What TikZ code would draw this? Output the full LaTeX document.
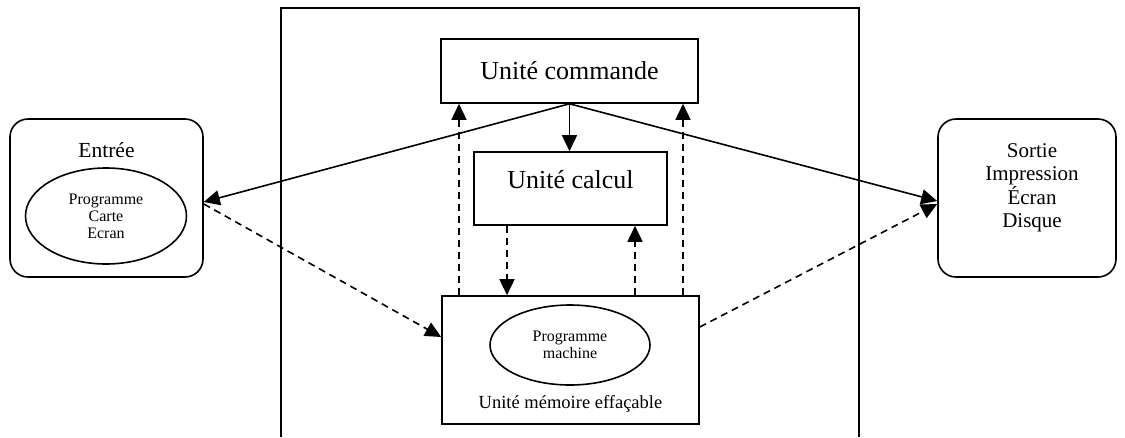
\documentclass[tikz,border=0pt]{standalone}
\usepackage{fontspec}
\setmainfont{Liberation Serif}
\usetikzlibrary{arrows.meta,shapes.geometric}
\begin{document}
\begin{tikzpicture}[x=1pt,y=-1pt,
  line width=1.6pt,
  box/.style={draw,rectangle,inner sep=0pt},
  rbox/.style={draw,rectangle,rounded corners=18pt,inner sep=0pt},
  oval/.style={draw,ellipse,inner sep=0pt},
  tip/.style={-{Triangle[length=16pt,width=15pt]}},
  dsh/.style={dash pattern=on 7pt off 5pt}
]
\useasboundingbox (0,0) rectangle (1125,437);
% outer frame (cropped at bottom)
\draw (281,437) -- (281,8) -- (859,8) -- (859,437);

% control unit
\node[box,minimum width=257pt,minimum height=64pt,font=\fontsize{26}{28}\selectfont] (comm) at (569.5,71) {Unité commande};
% calc unit
\node[box,minimum width=193pt,minimum height=73pt] (calc) at (570.5,188.5) {};
\node[font=\fontsize{26}{28}\selectfont] (calct) at (570.5,180) {Unité calcul};
% memory
\node[box,minimum width=257pt,minimum height=128pt] (mem) at (570.5,360) {};
\node[oval,minimum width=160pt,minimum height=80pt,align=center,font=\fontsize{16}{17}\selectfont] (prog) at (570,345) {Programme\\machine};
\node[font=\fontsize{18.5}{20}\selectfont] (memt) at (570.5,404) {Unité mémoire effaçable};

% input
\node[rbox,minimum width=193pt,minimum height=158pt] (ent) at (106.5,198) {};
\node[font=\fontsize{21.5}{23}\selectfont] (entt) at (106.5,150) {Entrée};
\node[oval,minimum width=161pt,minimum height=96pt,align=center,font=\fontsize{16}{17}\selectfont] (entp) at (106,216) {Programme\\Carte\\Ecran};

% output
\node[rbox,minimum width=178pt,minimum height=158pt] (sor) at (1027,198) {};
\node[align=center,font=\fontsize{21}{23.5}\selectfont] (sort) at (1032,188) {Sortie\\Impression\\Écran\\Disque};

% solid arrows
\draw[tip] (comm.south) -- ([yshift=-4pt]ent.east);
\draw[tip] (comm.south) -- ([yshift=-3pt]sor.west);
\draw[tip] (comm.south) -- (comm.south |- calc.north);

% dashed arrows
\draw[tip,dsh] ([yshift=-6pt]ent.east) -- ([yshift=23pt]mem.west);
\draw[tip,dsh] ([yshift=33pt]mem.east) -- ([yshift=-6pt]sor.west);
\draw[tip,dsh] ([xshift=-111.5pt]mem.north) -- ([xshift=-110.5pt]comm.south);
\draw[tip,dsh] ([xshift=112.5pt]mem.north) -- ([xshift=113.5pt]comm.south);
\draw[tip,dsh] ([xshift=-63.5pt]calc.south) -- ([xshift=-63.5pt]mem.north);
\draw[tip,dsh] ([xshift=64.5pt]mem.north) -- ([xshift=64.5pt]calc.south);
\end{tikzpicture}
\end{document}
